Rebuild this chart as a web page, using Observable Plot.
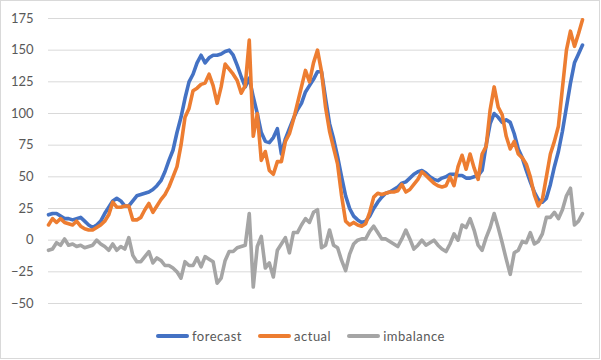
<!DOCTYPE html>
<html>
<head>
<meta charset="utf-8">
<script src="https://cdn.jsdelivr.net/npm/d3@7"></script>
<script src="https://cdn.jsdelivr.net/npm/@observablehq/plot@0.6"></script>
<style>
  html, body { margin: 0; padding: 0; background: #fff; }
  #wrap { position: relative; width: 601px; height: 360px; font-family: Lato, "Open Sans", sans-serif; }
  #chart { position: absolute; left: 0; top: 0; }
  #border { position: absolute; left: 0; top: 0; width: 600px; height: 359px; box-sizing: border-box; border: 1px solid #d9d9d9; pointer-events: none; }
  #legend { position: absolute; left: 0; top: 326px; width: 601px; height: 20px; display: flex; justify-content: center; align-items: center; font-size: 13px; color: #595959; letter-spacing: 0.5px; }
  .item { display: flex; align-items: center; margin: 0 8px; }
  .sw { width: 33px; height: 4px; border-radius: 2px; margin-right: 3px; }
</style>
</head>
<body>
<div id="wrap">
  <div id="chart"></div>
  <div id="legend"></div>
  <div id="border"></div>
</div>
<script>
// Series (evenly spaced samples)
const seriesNames = ["forecast", "actual", "imbalance"];
const seriesColors = ["#4472C4", "#ED7D31", "#A5A5A5"];

const forecast = [
  20,21,21,19,17,17,16,17,18,15,
  12,10,12,15,21,26,31,33,31,27,
  27,31,35,36,37,38,40,43,47,54,
  63,71,85,97,112,125,131,140,146,140,
  144,146,146,147,149,150,146,138,129,121,
  128,113,100,85,78,77,81,88,68,80,
  88,96,103,108,117,122,127,133,133,112,
  92,80,66,50,35,25,19,16,14,15,
  19,25,30,34,37,38,40,42,45,46,
  49,52,54,55,53,50,48,47,49,50,
  52,52,51,51,49,49,50,51,55,75,
  92,100,97,93,95,93,84,72,65,55,
  46,38,32,30,33,44,58,70,86,105,
  124,140,147,154
];

const actual = [
  12,17,14,17,14,13,12,15,11,9,
  8,8,10,12,15,20,30,26,26,27,
  27,16,16,18,24,29,22,27,32,36,
  42,50,58,75,97,104,118,120,123,124,
  131,122,108,121,139,135,131,126,116,122,
  158,82,100,63,70,55,52,62,62,78,
  84,95,108,121,134,125,140,150,133,105,
  86,73,60,35,15,12,14,12,11,13,
  22,34,37,36,37,38,38,39,44,38,
  40,44,48,54,51,48,45,43,42,43,
  50,43,58,67,56,68,57,48,68,74,
  103,121,105,99,82,72,78,68,65,60,
  50,36,27,32,50,68,78,90,120,150,
  165,153,163,174
];

const imbalance = [
  -8,-7,-2,-4,1,-4,-3,-5,-4,-6,
  -5,-4,0,-3,-5,-8,-3,-8,-5,-7,
  2,-12,-17,-17,-13,-9,-18,-14,-16,-20,
  -20,-22,-25,-30,-17,-20,-20,-14,-21,-13,
  -15,-17,-34,-30,-16,-9,-9,-6,-5,-4,
  21,-37,-5,3,-22,-18,-29,-8,-3,2,
  -10,6,6,12,17,14,22,24,-6,-4,
  8,-4,-6,-16,-24,-11,-3,0,1,1,
  7,11,6,1,1,-1,-3,-5,1,8,
  1,-7,-4,0,-4,-2,0,-4,-7,-9,
  -3,5,0,12,10,17,8,-4,-8,2,
  10,21,10,-2,-15,-27,-10,-8,-1,-2,
  6,-3,-1,5,18,18,22,17,24,35,
  41,12,15,21
];

const yTicks = [-50, -25, 0, 25, 50, 75, 100, 125, 150, 175];

const seriesValues = [forecast, actual, imbalance];
const N = forecast.length;

const lineMarks = seriesValues.map((vals, k) =>
  Plot.lineY(vals.map((v, i) => ({i, v})), {
    x: "i", y: "v",
    stroke: seriesColors[k],
    strokeWidth: 3.6,
    strokeLinejoin: "round",
    strokeLinecap: "round"
  })
);

const chart = Plot.plot({
  width: 601,
  height: 318,
  marginLeft: 48,
  marginRight: 19,
  marginTop: 18,
  marginBottom: 15,
  style: { fontFamily: "Lato, 'Open Sans', sans-serif", fontSize: "13px", color: "#595959", background: "transparent" },
  x: { domain: [0, N - 1], axis: null },
  y: { domain: [-50, 175], ticks: yTicks, tickSize: 0, tickPadding: 15, label: null },
  marks: [
    Plot.ruleY(yTicks, { stroke: "#d9d9d9", strokeWidth: 1 }),
    ...lineMarks
  ]
});
document.getElementById("chart").appendChild(chart);

const legend = document.getElementById("legend");
seriesNames.forEach((name, k) => {
  const item = document.createElement("div");
  item.className = "item";
  const sw = document.createElement("div");
  sw.className = "sw";
  sw.style.background = seriesColors[k];
  const label = document.createElement("span");
  label.textContent = name;
  item.appendChild(sw);
  item.appendChild(label);
  legend.appendChild(item);
});
</script>
</body>
</html>
